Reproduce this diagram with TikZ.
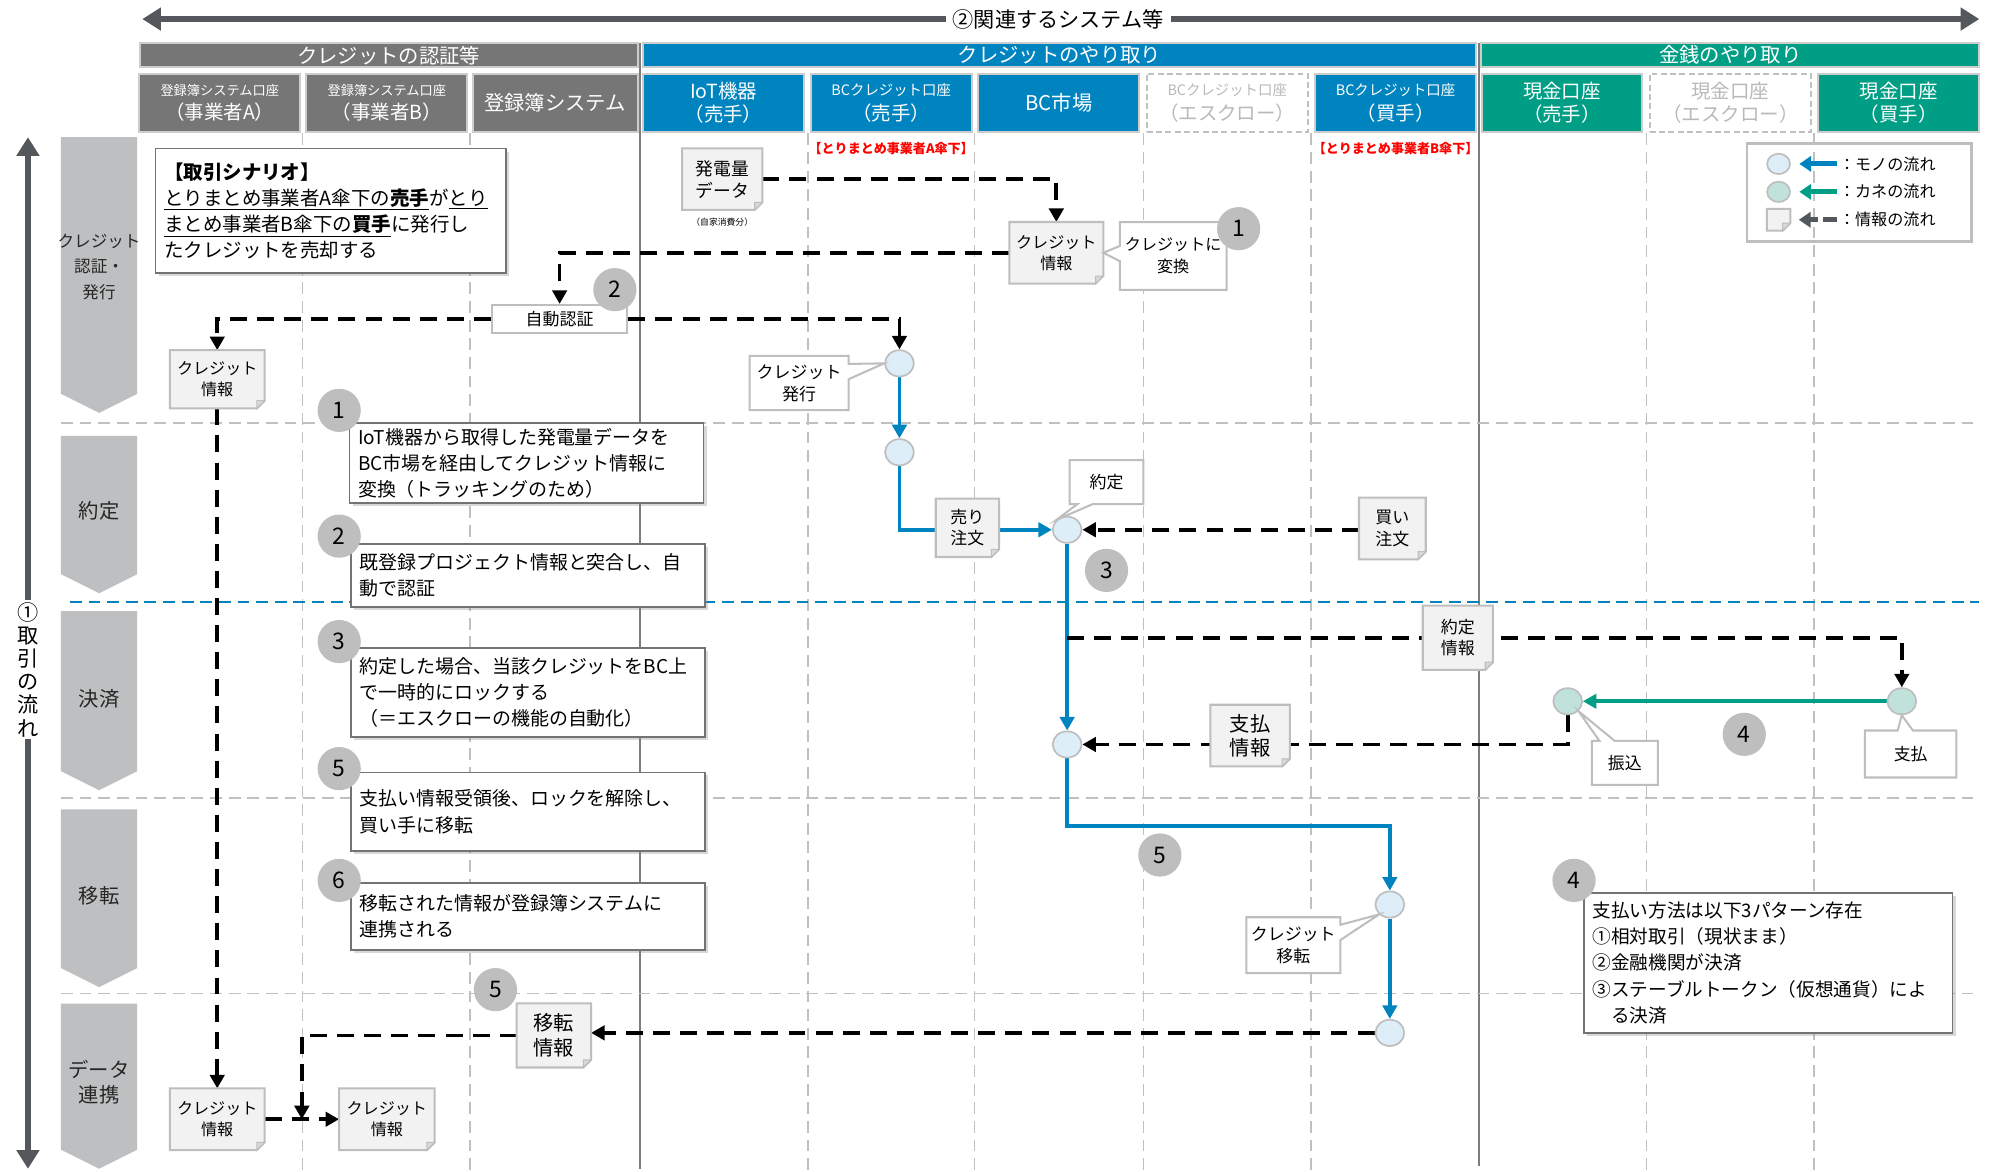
\documentclass[tikz,border=0pt]{standalone}
\usepackage{fontspec}
\setmainfont{Noto Sans CJK JP}
\usetikzlibrary{arrows.meta,shapes.geometric,shapes.callouts,shadows,calc}

\definecolor{authgray}{RGB}{118,118,118}
\definecolor{bcblue}{RGB}{0,132,192}
\definecolor{cashgreen}{RGB}{0,158,133}
\definecolor{barrim}{RGB}{205,205,205}
\definecolor{lanegray}{RGB}{192,192,192}
\definecolor{railgray}{RGB}{125,125,125}
\definecolor{phasegray}{RGB}{190,191,192}
\definecolor{axisgray}{RGB}{84,88,92}
\definecolor{stepgray}{RGB}{190,190,190}
\definecolor{docfill}{RGB}{242,242,242}
\definecolor{docedge}{RGB}{190,190,190}
\definecolor{goodsfill}{RGB}{221,238,249}
\definecolor{cashfill}{RGB}{192,226,218}
\definecolor{escrowtxt}{RGB}{185,185,185}
\definecolor{tagred}{RGB}{255,0,0}

\pgfdeclarelayer{grid}
\pgfdeclarelayer{flow}
\pgfsetlayers{grid,flow,main}

\tikzset{every picture/.style={line width=0.75pt},
  bigarrow/.style={draw=axisgray, line width=4pt, {Triangle[width=13pt,length=11pt]}-{Triangle[width=13pt,length=11pt]}},
  grpbar/.style={draw=barrim, line width=1pt, text=white, minimum height=14.25pt, inner sep=0pt, font=\fontsize{12}{12}\selectfont},
  lanebox/.style={draw=barrim, line width=1.2pt, text=white, minimum width=95pt, minimum height=34.5pt, inner sep=0pt, align=center, font=\fontsize{11.5}{13.5}\selectfont},
  escrowbox/.style={lanebox, fill=white, draw=lanegray, dash pattern=on 3.5pt off 2pt, text=escrowtxt},
  lanesep/.style={draw=lanegray, line width=1pt, dash pattern=on 7pt off 4pt},
  rail/.style={draw=railgray, line width=1.1pt},
  phasetxt/.style={align=center, text=black!85, inner sep=0pt},
  redtag/.style={text=tagred, font=\bfseries\fontsize{7.7}{8}\selectfont, inner sep=1pt},
  scenario/.style={draw=black!55, fill=white, line width=1pt, text width=197pt, inner xsep=5pt, align=left, minimum height=73.5pt, drop shadow={shadow xshift=1.8pt, shadow yshift=-1.8pt, opacity=0.3}, font=\fontsize{11.5}{15.5}\selectfont},
  stepbox/.style={draw=black!55, fill=white, line width=1pt, text width=199pt, inner xsep=5pt, inner ysep=1pt, align=left, drop shadow={shadow xshift=1.8pt, shadow yshift=-1.8pt, opacity=0.3}, font=\fontsize{11.2}{15.4}\selectfont},
  stepno/.style={circle, fill=stepgray, minimum size=25.5pt, inner sep=0pt, font=\fontsize{13.5}{13.5}\selectfont},
  procbox/.style={draw=docedge, fill=white, line width=1.2pt, minimum width=80pt, minimum height=16.5pt, inner sep=0pt, font=\fontsize{10}{10}\selectfont},
  docspace/.style={inner sep=0pt},
  docshape/.style={fill=docfill, draw=docedge, line width=1.2pt},
  docfold/.style={fill=docedge!60!white, draw=docedge, line width=0.6pt},
  balloon/.style={rectangle callout, fill=white, draw=docedge, line width=1.2pt, align=center, inner sep=1pt, callout pointer width=9pt, font=\fontsize{10}{13}\selectfont},
  goods/.style={ellipse, fill=goodsfill, draw=docedge, line width=1pt, minimum width=17pt, minimum height=15.5pt, inner sep=0pt},
  cash/.style={goods, fill=cashfill},
  goodsflow/.style={draw=bcblue, line width=2.2pt, -{Triangle[width=8.5pt,length=8pt]}},
  cashflow/.style={draw=cashgreen, line width=2.2pt, -{Triangle[width=8.5pt,length=8pt]}},
  infoflow/.style={draw=black, line width=2.2pt, dash pattern=on 10pt off 6pt, -{Triangle[width=8.5pt,length=8pt]}}
}

% document sheet with folded corner: name, position, width, height, font, text
\newcommand{\infodoc}[6]{%
  \path (#2) node[docspace, minimum width=#3, minimum height=#4] (#1) {};
  \filldraw[docshape] (#1.north west) -- (#1.north east) -- ($(#1.south east)+(0,-6)$) -- ($(#1.south east)+(-6,0)$) -- (#1.south west) -- cycle;
  \filldraw[docfold] ($(#1.south east)+(0,-6)$) -- ($(#1.south east)+(-6,-6)$) -- ($(#1.south east)+(-6,0)$) -- cycle;
  \node[font={#5}, align=center, inner sep=0pt] (#1-t) at (#1) {#6};
}

\begin{document}
\begin{tikzpicture}[x=0.75pt,y=0.75pt,yscale=-1,xscale=1]
\useasboundingbox (0,0) rectangle (1568,922);

%Grid of lanes and phases
\begin{pgfonlayer}{grid}
\fill[white] (0,0) rectangle (1568,922);
\foreach \x in {238,370,636,767,900,1032,1296,1428}
  \draw[lanesep] (\x,105) -- (\x,922);
\draw[rail] (504,34) -- (504,920);
\draw[rail] (1164,34) -- (1164,918);
\foreach \y in {333,628,782}
  \draw[lanesep] (48,\y) -- (1558,\y);
\draw[lanesep, draw=bcblue] (55,474) -- (1558,474);
\end{pgfonlayer}

%Axis arrows
\coordinate (sysL) at (112,15);
\coordinate (sysR) at (1558,15);
\draw[bigarrow] (sysL) -- (sysR);
\node[fill=white, inner xsep=4pt, font=\fontsize{12.5}{12.5}\selectfont] (syslbl) at (833,15) {②関連するシステム等};
\coordinate (flowT) at (22,108);
\coordinate (flowB) at (22,920);
\draw[bigarrow] (flowT) -- (flowB);
\node[fill=white, align=center, inner sep=1pt, font=\fontsize{12.5}{13.7}\selectfont] (flowlbl) at (22,527) {①\\取\\引\\の\\流\\れ};

%Group headers
\node[grpbar, fill=authgray, minimum width=294pt] (hdauth) at (306,43.5) {クレジットの認証等};
\node[grpbar, fill=bcblue, minimum width=492pt] (hdcred) at (834,43.5) {クレジットのやり取り};
\node[grpbar, fill=cashgreen, minimum width=294pt] (hdcash) at (1362,43.5) {金銭のやり取り};

%Lane headers
\node[lanebox, fill=authgray] (lnA) at (173,81) {{\fontsize{7.8}{9}\selectfont 登録簿システム口座}\\[1pt]（事業者A）};
\node[lanebox, fill=authgray] (lnB) at (304.5,81) {{\fontsize{7.8}{9}\selectfont 登録簿システム口座}\\[1pt]（事業者B）};
\node[lanebox, fill=authgray, minimum width=97.5pt, font=\fontsize{12}{13.5}\selectfont] (lnReg) at (437,81) {登録簿システム};
\node[lanebox, fill=bcblue] (lnIoT) at (569.5,81) {IoT機器\\（売手）};
\node[lanebox, fill=bcblue] (lnBCs) at (701.5,81) {{\fontsize{8.5}{9}\selectfont BCクレジット口座}\\[1pt]（売手）};
\node[lanebox, fill=bcblue, font=\fontsize{12}{13.5}\selectfont] (lnMkt) at (833.5,81) {BC市場};
\node[escrowbox] (lnBCe) at (966,81) {{\fontsize{8.5}{9}\selectfont BCクレジット口座}\\[1pt]（エスクロー）};
\node[lanebox, fill=bcblue] (lnBCb) at (1098.5,81) {{\fontsize{8.5}{9}\selectfont BCクレジット口座}\\[1pt]（買手）};
\node[lanebox, fill=cashgreen] (lnCs) at (1229.5,81) {現金口座\\（売手）};
\node[escrowbox] (lnCe) at (1362,81) {現金口座\\（エスクロー）};
\node[lanebox, fill=cashgreen] (lnCb) at (1494.5,81) {現金口座\\（買手）};

%Phase chevrons
\foreach \ytop/\ytip/\ymid/\fs/\bs/\lbl [count=\i] in {108/325/210/9.8/15/{クレジット\\認証・\\発行}, 343/467/402/12/14/約定, 481/622/550/12/14/決済, 637/777/705/12/14/移転, 790/920/852/12/15/{データ\\連携}}{
  \fill[phasegray] (48,\ytop) -- (108,\ytop) -- (108,\ytip-15) -- (78,\ytip) -- (48,\ytip-15) -- cycle;
  \node[phasetxt, font=\fontsize{\fs}{\bs}\selectfont] (ph\i) at (78,\ymid) {\lbl};
}

%Scenario
\node[scenario] (scen) at (260.5,166) {\textbf{【取引シナリオ】}\\\underline{とりまとめ事業者A傘下の\textbf{売手}}が\underline{とり}\\\underline{まとめ事業者B傘下の\textbf{買手}}に発行し\\たクレジットを売却する};
\node[redtag] (tagA) at (701.5,117) {【とりまとめ事業者A傘下】};
\node[redtag] (tagB) at (1098.5,117) {【とりまとめ事業者B傘下】};

%Information sheets
\infodoc{pgen}{568.5,141}{47pt}{36pt}{\fontsize{10.5}{13}\selectfont}{発電量\\データ}
\node[font=\fontsize{5.2}{6}\selectfont, inner sep=0pt] (selfuse) at (568.5,175) {（自家消費分）};
\infodoc{cinfo}{831.5,199}{55pt}{36pt}{\fontsize{9.5}{12.5}\selectfont}{クレジット\\情報}
\infodoc{cinfoA}{171,298.5}{55.5pt}{34pt}{\fontsize{9.5}{12.5}\selectfont}{クレジット\\情報}
\infodoc{sell}{761.5,415.5}{37pt}{34pt}{\fontsize{10}{12.5}\selectfont}{売り\\注文}
\infodoc{buy}{1096,416}{39pt}{36pt}{\fontsize{10}{12.5}\selectfont}{買い\\注文}
\infodoc{agreeinfo}{1147.5,502}{41pt}{37.5pt}{\fontsize{10}{12.5}\selectfont}{約定\\情報}
\infodoc{payinfo}{984,579}{46.5pt}{36pt}{\fontsize{12}{14.5}\selectfont}{支払\\情報}
\infodoc{moveinfo}{436,815}{43.5pt}{37.5pt}{\fontsize{12}{14.5}\selectfont}{移転\\情報}
\infodoc{cinfoA2}{171,881}{55.5pt}{36pt}{\fontsize{9.5}{12.5}\selectfont}{クレジット\\情報}
\infodoc{cinfoB}{304.5,881}{56pt}{36pt}{\fontsize{9.5}{12.5}\selectfont}{クレジット\\情報}
\node[procbox] (auth) at (440.5,251) {自動認証};

%States of credit and cash
\node[goods] (c1) at (708,286) {};
\node[goods] (c2) at (708,356) {};
\node[goods] (c3) at (840,417) {};
\node[goods] (c4) at (840,586) {};
\node[goods] (c5) at (1094,712) {};
\node[goods] (c6) at (1094,813) {};
\node[cash] (g1) at (1234,552) {};
\node[cash] (g2) at (1497,552) {};
\coordinate (lockrel) at (1094,650);

%Flows
\begin{pgfonlayer}{flow}
\draw[infoflow] (pgen.east) -| (cinfo.north);
\draw[infoflow] (cinfo.west) -| (auth.north);
\draw[infoflow] (auth.west) -| (cinfoA.north);
\draw[infoflow] (auth.east) -| (c1.north);
\draw[goodsflow] (c1.south) -- (c2.north);
\draw[goodsflow] (c2.south) |- (c3.west);
\draw[infoflow] (buy.west |- c3.east) -- (c3.east);
\draw[goodsflow] (c3.south) -- (c4.north);
\draw[infoflow] (c3.south |- agreeinfo.west) -| (g2.north);
\draw[cashflow] (g2.west) -- (g1.east);
\draw[infoflow] (g1.south) |- (c4.east);
\draw[goodsflow] (c4.south) |- (lockrel) -- (c5.north);
\draw[goodsflow] (c5.south) -- (c6.north);
\draw[infoflow] (c6.west) -- (c6.west -| moveinfo.east);
\draw[infoflow] (cinfoA.south) -- (cinfoA2.north);
\draw[infoflow] (cinfoA2.east) -- (cinfoB.west);
\draw[infoflow] (moveinfo.west) -| ($(cinfoA2.east)!0.5!(cinfoB.west)$);
\end{pgfonlayer}

%Callouts
\node[balloon, minimum width=63pt, minimum height=40pt, font=\fontsize{9.5}{13}\selectfont, callout absolute pointer={(cinfo.east)}] (cconv) at (923.5,201.5) {クレジットに\\変換};
\node[balloon, minimum width=58.5pt, minimum height=32pt, callout absolute pointer={(c1.west)}] (cissue) at (629,301.5) {クレジット\\発行};
\node[balloon, minimum width=43.5pt, minimum height=26pt, callout absolute pointer={(c3.north west)}] (agree) at (871,379.5) {約定};
\node[balloon, minimum width=39pt, minimum height=26pt, callout absolute pointer={(g1.south east)}] (furikomi) at (1279,600.5) {振込};
\node[balloon, minimum width=54pt, minimum height=27.75pt, callout absolute pointer={(g2.south)}] (shiharai) at (1504,593.5) {支払};
\node[balloon, minimum width=55.5pt, minimum height=33pt, callout absolute pointer={(c5.south west)}] (cmove) at (1018,744) {クレジット\\移転};

%Step numbers on the flow
\node[stepno] (n1) at (975,180) {1};
\node[stepno] (n2) at (484,228) {2};
\node[stepno] (n3) at (871,449) {3};
\node[stepno] (n4) at (1373,578) {4};
\node[stepno] (n5) at (913,673) {5};
\node[stepno] (n5b) at (390,779) {5};

%Step notes
\node[stepbox, minimum height=47.25pt] (s1) at (414.5,364.5) {IoT機器から取得した発電量データを\\BC市場を経由してクレジット情報に\\変換（トラッキングのため）};
\node[stepbox, minimum height=37.5pt] (s2) at (415.5,453) {既登録プロジェクト情報と突合し、自\\動で認証};
\node[stepbox, minimum height=52.5pt] (s3) at (415.5,545) {約定した場合、当該クレジットをBC上\\で一時的にロックする\\（＝エスクローの機能の自動化）};
\node[stepbox, minimum height=46.5pt] (s5) at (415.5,639) {支払い情報受領後、ロックを解除し、\\買い手に移転};
\node[stepbox, minimum height=39.75pt] (s6) at (415.5,721.5) {移転された情報が登録簿システムに\\連携される};
\node[stepbox, text width=207.5pt, minimum height=82.5pt, font=\fontsize{11}{15.4}\selectfont] (s4) at (1392,758) {支払い方法は以下3パターン存在\\①相対取引（現状まま）\\②金融機関が決済\\③ステーブルトークン（仮想通貨）によ\\　る決済};
\node[stepno] (s1n) at (267,323) {1};
\node[stepno] (s2n) at (267,422) {2};
\node[stepno] (s3n) at (267,505) {3};
\node[stepno] (s5n) at (267,605) {5};
\node[stepno] (s6n) at (267,693) {6};
\node[stepno] (s4n) at (1239,693) {4};

%Legend
\node[draw=docedge, line width=1.5pt, minimum width=132.75pt, minimum height=57.75pt] (lgbox) at (1463.5,151.5) {};
\node[goods, minimum width=13.5pt, minimum height=12pt] (lgc1) at (1400,129) {};
\node[cash, minimum width=13.5pt, minimum height=12pt] (lgc2) at (1400,151) {};
\infodoc{lgd}{1400,173}{13.5pt}{12.5pt}{\fontsize{6}{6}\selectfont}{}
\node[anchor=west, inner sep=1pt, font=\fontsize{9.5}{10}\selectfont] (lgt1) at (1446,129) {：モノの流れ};
\node[anchor=west, inner sep=1pt, font=\fontsize{9.5}{10}\selectfont] (lgt2) at (1446,151) {：カネの流れ};
\node[anchor=west, inner sep=1pt, font=\fontsize{9.5}{10}\selectfont] (lgt3) at (1446,173) {：情報の流れ};
\draw[draw=bcblue, line width=3pt, -{Triangle[width=9pt,length=7pt]}, shorten >=5pt] (lgt1.west) -- (lgc1.east);
\draw[draw=cashgreen, line width=3pt, -{Triangle[width=9pt,length=7pt]}, shorten >=5pt] (lgt2.west) -- (lgc2.east);
\draw[draw=axisgray, line width=3pt, dash pattern=on 8pt off 3pt, -{Triangle[width=9pt,length=7pt]}, shorten >=5pt] (lgt3.west) -- (lgd.east);

\end{tikzpicture}
\end{document}
